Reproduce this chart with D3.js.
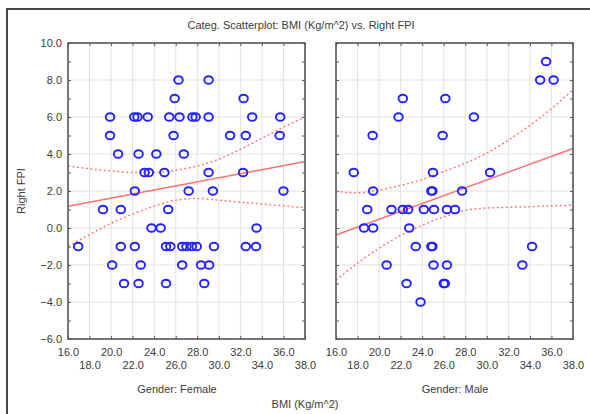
<!DOCTYPE html>
<html>
<head>
<meta charset="utf-8">
<script src="https://cdn.jsdelivr.net/npm/d3@7"></script>
<style>
  body { margin: 0; background: #fff; }
  svg { display: block; font-family: "Liberation Sans", Arial, sans-serif; }
</style>
</head>
<body>
<svg id="chart"></svg>
<script>
// ticks
const xTicks = [16, 18, 20, 22, 24, 26, 28, 30, 32, 34, 36, 38];
const yTicks = [-6, -5, -4, -3, -2, -1, 0, 1, 2, 3, 4, 5, 6, 7, 8, 9, 10];
const yGrid = [-6, -4, -2, 0, 2, 4, 6, 8, 10];
const panelNames = ["Gender: Female", "Gender: Male"];

// female points
const femaleBMI = [26.26, 29.05,
  25.9, 32.3,
  19.9, 22.15, 22.45, 23.4, 25.4, 26.35, 27.55, 27.85, 29.05, 33.1, 35.7,
  19.9, 25.8, 31.05, 32.5, 35.65,
  20.65, 22.55, 24.2, 26.75,
  23.1, 23.5, 24.95, 29.05, 32.25,
  22.2, 27.2, 29.45, 36.0,
  19.25, 20.9, 25.3,
  23.75, 24.6, 33.5,
  16.95, 20.9, 22.2, 25.1, 25.5, 26.6, 27.0, 27.5, 27.95, 29.55, 32.5, 33.45,
  20.1, 22.75, 26.6, 28.35, 29.1,
  21.2, 22.55, 25.1, 28.65];
const femaleFPI = [8, 8,
  7, 7,
  6, 6, 6, 6, 6, 6, 6, 6, 6, 6, 6,
  5, 5, 5, 5, 5,
  4, 4, 4, 4,
  3, 3, 3, 3, 3,
  2, 2, 2, 2,
  1, 1, 1,
  0, 0, 0,
  -1, -1, -1, -1, -1, -1, -1, -1, -1, -1, -1, -1,
  -2, -2, -2, -2, -2,
  -3, -3, -3, -3];

// male points
const maleBMI = [35.5,
  34.95, 36.2,
  22.2, 26.15,
  21.8, 28.8,
  19.4, 25.9,
  17.65, 25.0, 30.3,
  19.45, 24.85, 24.95, 27.7,
  18.9, 21.15, 22.2, 22.7, 24.15, 25.1, 26.3, 27.05,
  18.6, 19.45, 22.8,
  23.4, 24.85, 24.95, 34.2,
  20.7, 25.05, 26.3, 33.3,
  22.55, 26.0, 26.1,
  23.85];
const maleFPI = [9,
  8, 8,
  7, 7,
  6, 6,
  5, 5,
  3, 3, 3,
  2, 2, 2, 2,
  1, 1, 1, 1, 1, 1, 1, 1,
  0, 0, 0,
  -1, -1, -1, -1,
  -2, -2, -2, -2,
  -3, -3, -3,
  -4];

// fitted line and 95% band
const fitX = [16, 38];
const femaleFit = [1.17, 3.59];
const maleFit = [-0.38, 4.3];
const bandX = [16, 18, 20, 22, 24, 26, 28, 30, 32, 34, 36, 38];
const femaleUpper = [3.35, 3.2, 3.08, 3.0, 3.0, 3.12, 3.35, 3.72, 4.25, 4.85, 5.45, 6.0];
const femaleLower = [-0.99, -0.35, 0.25, 0.75, 1.18, 1.5, 1.6, 1.5, 1.4, 1.3, 1.2, 1.1];
const maleUpper = [1.98, 1.9, 2.05, 2.3, 2.62, 3.05, 3.5, 4.05, 4.75, 5.55, 6.45, 7.48];
const maleLower = [-2.83, -1.9, -1.1, -0.4, 0.15, 0.6, 0.95, 1.08, 1.12, 1.15, 1.2, 1.23];

const W = 590, H = 414;
const pw = 237, ph = 296, panelTop = 43;
const panelLeft = [68, 336];
const ink = "#3c3c3c", frame = "#585858";

const svg = d3.select("#chart").attr("width", W).attr("height", H);

const x = d3.scaleLinear().domain([16, 38]).range([0, pw]);
const y = d3.scaleLinear().domain([-6, 10]).range([ph, 0]);
const f1 = d3.format(".1f");

// picture frame (top and left)
svg.append("path")
  .attr("d", `M7,${H} V9 H${W}`)
  .attr("fill", "none")
  .attr("stroke", "#4a4a4a")
  .attr("stroke-width", 2);

svg.append("text")
  .attr("x", 301).attr("y", 29)
  .attr("text-anchor", "middle")
  .attr("font-size", 11).attr("fill", ink)
  .text("Categ. Scatterplot: BMI (Kg/m^2) vs. Right FPI");

svg.append("text")
  .attr("transform", "translate(25,191) rotate(-90)")
  .attr("text-anchor", "middle")
  .attr("font-size", 11).attr("fill", ink)
  .text("Right FPI");

svg.append("text")
  .attr("x", 305).attr("y", 408)
  .attr("text-anchor", "middle")
  .attr("font-size", 11).attr("fill", ink)
  .text("BMI (Kg/m^2)");

const groups = [
  {name: panelNames[0], bmi: femaleBMI, fpi: femaleFPI, fit: femaleFit, upper: femaleUpper, lower: femaleLower, labelX: 177},
  {name: panelNames[1], bmi: maleBMI, fpi: maleFPI, fit: maleFit, upper: maleUpper, lower: maleLower, labelX: 455}
];

const band = d3.line().x(d => x(d[0])).y(d => y(d[1])).curve(d3.curveMonotoneX);
const fitLine = d3.line().x(d => x(d[0])).y(d => y(d[1]));

groups.forEach((p, i) => {
  const g = svg.append("g").attr("transform", `translate(${panelLeft[i]},${panelTop})`);

  // grid
  g.append("g").selectAll("line").data(xTicks).join("line")
    .attr("x1", d => x(d)).attr("x2", d => x(d))
    .attr("y1", 0).attr("y2", ph)
    .attr("stroke", "#e2e2e2").attr("stroke-width", 1);
  g.append("g").selectAll("line").data(yGrid).join("line")
    .attr("x1", 0).attr("x2", pw)
    .attr("y1", d => y(d)).attr("y2", d => y(d))
    .attr("stroke", "#e2e2e2").attr("stroke-width", 1);

  // axes, ticks pointing inwards
  const bottom = g.append("g")
    .attr("transform", `translate(0,${ph})`)
    .call(d3.axisBottom(x).tickValues(xTicks).tickSizeInner(-3).tickSizeOuter(0).tickFormat(f1));
  bottom.selectAll("text")
    .attr("y", (d, j) => j % 2 ? 22 : 9.5)
    .attr("font-size", 11).attr("fill", ink);

  g.append("g")
    .call(d3.axisTop(x).tickValues(xTicks).tickSizeInner(-3).tickSizeOuter(0).tickFormat(""));

  const left = g.append("g")
    .call(d3.axisLeft(y).tickValues(yTicks).tickSizeInner(-3).tickSizeOuter(0).tickPadding(6)
      .tickFormat(d => (i === 0 && d % 2 === 0) ? f1(d) : ""));
  left.selectAll("text").attr("font-size", 11).attr("fill", ink);

  g.append("g")
    .attr("transform", `translate(${pw},0)`)
    .call(d3.axisRight(y).tickValues(yTicks).tickSizeInner(-3).tickSizeOuter(0).tickFormat(""));

  g.selectAll(".domain").remove();
  g.selectAll(".tick line").attr("stroke", frame);
  g.selectAll("g").attr("font-family", null);

  // band and fit
  const bandUp = bandX.map((d, j) => [d, p.upper[j]]);
  const bandLo = bandX.map((d, j) => [d, p.lower[j]]);
  [bandUp, bandLo].forEach(b => {
    g.append("path").datum(b)
      .attr("d", band)
      .attr("fill", "none")
      .attr("stroke", "#ff7b7b")
      .attr("stroke-width", 1.5)
      .attr("stroke-dasharray", "2,2.5");
  });
  g.append("path").datum(fitX.map((d, j) => [d, p.fit[j]]))
    .attr("d", fitLine)
    .attr("fill", "none")
    .attr("stroke", "#ff7070")
    .attr("stroke-width", 1.5);

  // points (slightly wide ovals, like the original markers)
  g.append("g").selectAll("ellipse").data(p.bmi).join("ellipse")
    .attr("cx", d => x(d))
    .attr("cy", (d, j) => y(p.fpi[j]))
    .attr("rx", 4.3)
    .attr("ry", 3.8)
    .attr("fill", "none")
    .attr("stroke", "#2323ff")
    .attr("stroke-width", 1.9);

  // panel border
  g.append("rect")
    .attr("width", pw).attr("height", ph)
    .attr("fill", "none")
    .attr("stroke", frame)
    .attr("stroke-width", 1.6);

  svg.append("text")
    .attr("x", p.labelX).attr("y", 393)
    .attr("text-anchor", "middle")
    .attr("font-size", 11).attr("fill", ink)
    .text(p.name);
});
</script>
</body>
</html>
